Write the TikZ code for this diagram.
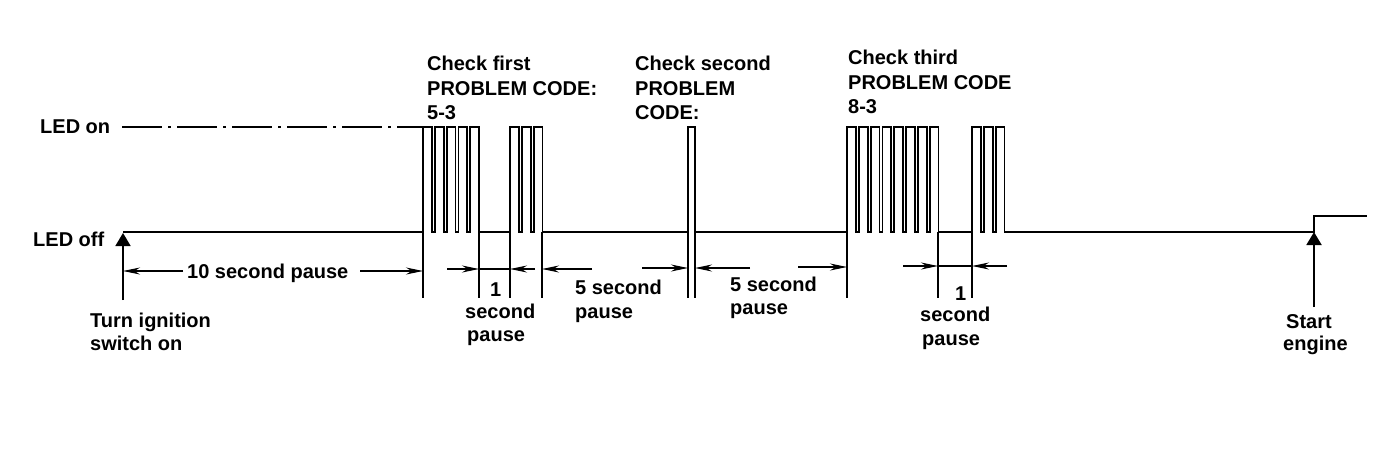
\documentclass[tikz,border=0pt]{standalone}
\usepackage{fontspec}
\setmainfont{Liberation Sans}
\usetikzlibrary{arrows.meta}

\tikzset{
  wave/.style={line width=1.8pt, line join=miter},
  extline/.style={line width=1.5pt},
  dimline/.style={line width=1.2pt, -{Stealth[length=17pt,width=7pt]}},
  marker/.style={line width=1.8pt, -{Triangle[length=13pt,width=15pt]}},
  lbl/.style={font=\fontsize{20}{24}\selectfont\bfseries, anchor=base west, inner sep=0pt},
}
% one group of code pulses: start x, number of pulses
\newcommand{\codetrain}[2]{%
  \draw[wave] (#1,232) foreach \k in {1,...,#2} {-- ++(0,-105) -- ++(8.8,0) -- ++(0,105) -- ++(3,0)};}

\begin{document}
\begin{tikzpicture}[x=1pt,y=-1pt]
\useasboundingbox (0,0) rectangle (1392,466);

% levels
\node[lbl] (ledon) at (40,133) {LED on};
\node[lbl] (ledoff) at (33,246) {LED off};
\draw[line width=1.4pt, dash pattern=on 40pt off 6pt on 3pt off 6pt] (122,127) -- (423,127);

% LED off line between the codes
\draw[wave] (123,232) -- (423,232);
\draw[wave] (479,232) -- (510,232);
\draw[wave] (542,232) -- (688,232);
\draw[wave] (695,232) -- (847,232);
\draw[wave] (938,232) -- (972,232);
\draw[wave] (1004,232) -- (1314,232) -- (1314,216) -- (1367,216);

% code pulses
\codetrain{423}{5}
\codetrain{510}{3}
\draw[wave] (688,232) -- (688,127) -- (695,127) -- (695,232);
\codetrain{847}{8}
\codetrain{972}{3}

% extension lines
\foreach \x in {423,479,510,542,688,695,847,938,972}
  \draw[extline] (\x,232) -- (\x,298);

% ignition and engine markers
\draw[marker] (123,300) -- (123,233);
\draw[marker] (1314,307) -- (1314,232);

% pause arrows
\draw[dimline] (183,271) -- (123,271);
\draw[dimline] (360,271) -- (423,271);
\draw[dimline] (447,269) -- (479,269);
\draw[line width=1.2pt] (479,269) -- (510,269);
\draw[dimline] (535,269) -- (510,269);
\draw[dimline] (592,269) -- (542,269);
\draw[dimline] (642,268) -- (688,268);
\draw[dimline] (750,268) -- (695,268);
\draw[dimline] (798,267) -- (847,267);
\draw[dimline] (903,266) -- (938,266);
\draw[line width=1.2pt] (938,266) -- (972,266);
\draw[dimline] (1007,266) -- (972,266);

% code labels
\node[lbl] (ca1) at (427,70) {Check first};
\node[lbl] (ca2) at (427,95) {PROBLEM CODE:};
\node[lbl] (ca3) at (427,119) {5-3};
\node[lbl] (cb1) at (635,70) {Check second};
\node[lbl] (cb2) at (635,95) {PROBLEM};
\node[lbl] (cb3) at (635,119) {CODE:};
\node[lbl] (cc1) at (848,64) {Check third};
\node[lbl] (cc2) at (848,89) {PROBLEM CODE};
\node[lbl] (cc3) at (848,113) {8-3};

% pause labels
\node[lbl] (p10) at (187,278) {10 second pause};
\node[lbl] (pa1) at (490,296) {1};
\node[lbl] (pa2) at (465,318) {second};
\node[lbl] (pa3) at (467,341) {pause};
\node[lbl] (pb1) at (575,294) {5 second};
\node[lbl] (pb2) at (575,318) {pause};
\node[lbl] (pc1) at (730,291) {5 second};
\node[lbl] (pc2) at (730,314) {pause};
\node[lbl] (pd1) at (955,300) {1};
\node[lbl] (pd2) at (920,321) {second};
\node[lbl] (pd3) at (922,345) {pause};

% markers text
\node[lbl] (ign1) at (90,327) {Turn ignition};
\node[lbl] (ign2) at (90,350) {switch on};
\node[lbl] (eng1) at (1286,328) {Start};
\node[lbl] (eng2) at (1283,350) {engine};

\end{tikzpicture}
\end{document}
